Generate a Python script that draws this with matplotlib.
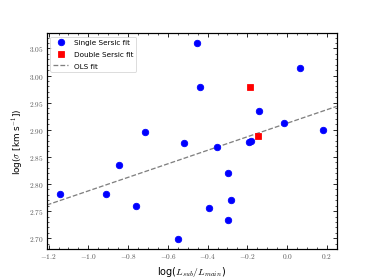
import numpy as np
import matplotlib
matplotlib.use('Agg')
import matplotlib.pyplot as plt
from matplotlib.ticker import AutoMinorLocator, FuncFormatter

# single Sersic fits
single_x = [-1.143, -0.911, -0.846, -0.762, -0.715, -0.547, -0.519, -0.451,
            -0.440, -0.394, -0.354, -0.299, -0.282, -0.299, -0.194, -0.180,
            -0.141, -0.015, 0.064, 0.183]
single_y = [2.782, 2.781, 2.835, 2.759, 2.895, 2.698, 2.875, 3.060,
            2.979, 2.756, 2.869, 2.820, 2.770, 2.734, 2.877, 2.879,
            2.935, 2.912, 3.014, 2.900]

# double Sersic fits
double_x = [-0.186, -0.148]
double_y = [2.978, 2.888]

# OLS fit
ols_slope = 0.1247
ols_intercept = 2.912

plt.rcParams['mathtext.fontset'] = 'cm'

fig, ax = plt.subplots(figsize=(6.4, 4.8))

# points first so that the x range comes from the data
ax.plot(single_x, single_y, 'o', color='blue', ms=8, label='Single Sersic fit', zorder=3)
ax.plot(double_x, double_y, 's', color='red', ms=7.5, label='Double Sersic fit', zorder=3)
xlim = ax.get_xlim()
xx = np.array(xlim)
ax.plot(xx, ols_intercept + ols_slope * xx, '--', color='grey', lw=1.6,
        label='OLS fit', zorder=2)
ax.set_xlim(xlim)

ax.set_xlabel(r'log($L_{sub}/L_{main}$)', fontsize=12)
ax.set_ylabel(r'log($\sigma$ [km s$^{-1}$])', fontsize=11)

ax.xaxis.set_major_formatter(FuncFormatter(lambda v, p: r'$%.1f$' % v))
ax.yaxis.set_major_formatter(FuncFormatter(lambda v, p: r'$%.2f$' % v))
ax.xaxis.set_minor_locator(AutoMinorLocator())
ax.yaxis.set_minor_locator(AutoMinorLocator())
ax.tick_params(which='both', direction='in', top=True, right=True, labelsize=9,
               labelcolor='#555555')
ax.tick_params(which='major', length=5, width=1)
ax.tick_params(which='minor', length=2.5, width=0.8)
for s in ax.spines.values():
    s.set_linewidth(1.5)

ax.legend(loc='upper left', fontsize=9, labelspacing=0.75)

fig.savefig('out.png', dpi=58.44)
